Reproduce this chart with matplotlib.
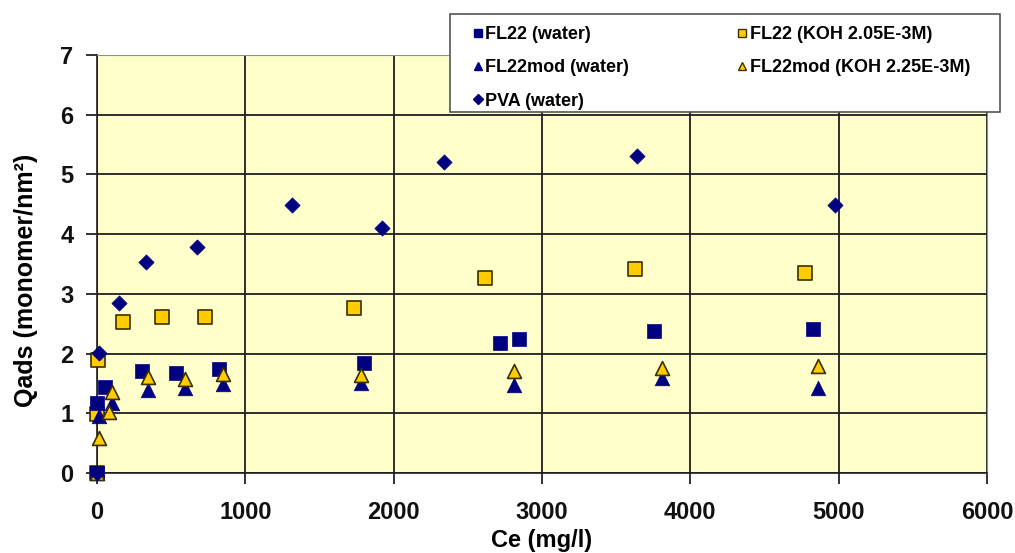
import numpy as np
import matplotlib.pyplot as plt
from matplotlib.lines import Line2D
from matplotlib.patches import Rectangle

plt.rcParams['font.family'] = ['Liberation Sans', 'DejaVu Sans']
plt.rcParams['font.weight'] = 'bold'

# FL22 in water (navy squares)
fl22_w_x = [0, 0, 55, 300, 535, 820, 1800, 2720, 2845, 3755, 4830]
fl22_w_y = [0, 1.17, 1.44, 1.70, 1.68, 1.74, 1.84, 2.18, 2.24, 2.37, 2.41]

# FL22 in KOH (yellow squares)
fl22_k_x = [0, 0, 5, 175, 440, 725, 1730, 2615, 3630, 4770]
fl22_k_y = [0, 0.98, 1.90, 2.53, 2.61, 2.61, 2.77, 3.27, 3.41, 3.35]

# FL22mod in water (navy triangles)
mod_w_x = [0, 10, 100, 345, 590, 850, 1780, 2810, 3810, 4860]
mod_w_y = [0, 0.96, 1.17, 1.39, 1.42, 1.49, 1.51, 1.47, 1.59, 1.42]

# FL22mod in KOH (yellow triangles)
mod_k_x = [0, 10, 80, 100, 345, 590, 850, 1780, 2810, 3810, 4860]
mod_k_y = [0, 0.59, 1.02, 1.36, 1.60, 1.57, 1.66, 1.64, 1.70, 1.76, 1.79]

# PVA in water (navy diamonds)
pva_x = [0, 15, 150, 330, 675, 1315, 1920, 2340, 3640, 4975]
pva_y = [0, 2.01, 2.85, 3.54, 3.79, 4.49, 4.10, 5.20, 5.31, 4.49]

navy = '#000080'
yellow = '#FFCC00'
edge = '#3a3000'

W, H = 1015, 553
fig = plt.figure(figsize=(W / 100, H / 100), dpi=100)
ax = fig.add_axes([0.0956, 0.1447, 0.8768, 0.7558])
ax.set_facecolor('#FFFFCC')

ax.scatter(fl22_k_x, fl22_k_y, marker='s', s=95, c=yellow, edgecolors=edge, linewidths=1.2, zorder=3, clip_on=False)
ax.scatter(fl22_w_x, fl22_w_y, marker='s', s=110, c=navy, edgecolors=navy, linewidths=0.5, zorder=4, clip_on=False)
ax.scatter(mod_w_x, mod_w_y, marker='^', s=110, c=navy, edgecolors=navy, linewidths=0.5, zorder=5, clip_on=False)
ax.scatter(mod_k_x, mod_k_y, marker='^', s=100, c=yellow, edgecolors=edge, linewidths=1.2, zorder=6, clip_on=False)
ax.scatter(pva_x, pva_y, marker='D', s=60, c=navy, edgecolors=navy, linewidths=0.5, zorder=7, clip_on=False)

ax.set_xlim(0, 6000)
ax.set_ylim(0, 7)
ax.set_xticks(np.arange(0, 6001, 1000))
ax.set_yticks(np.arange(0, 8, 1))
ax.grid(True, color='#202020', linewidth=1.3, zorder=1)
ax.set_axisbelow(True)
ax.tick_params(direction='out', length=8, width=1.2, labelsize=17, colors='#111111')
ax.tick_params(axis='x', pad=12)
ax.tick_params(axis='y', pad=9)
for lab in ax.get_xticklabels() + ax.get_yticklabels():
    lab.set_fontweight('bold')

for side in ['top', 'right']:
    ax.spines[side].set_color('#909090')
for side in ['left', 'bottom']:
    ax.spines[side].set_color('#202020')
    ax.spines[side].set_linewidth(1.2)

ax.set_xlabel('Ce (mg/l)', fontsize=17, fontweight='bold', labelpad=4)
ax.set_ylabel('Qads (monomer/nm²)', fontsize=18, fontweight='bold')
ax.yaxis.set_label_coords(-0.066, 0.46)

# legend box drawn separately so the padding can be uneven like the original
box = Rectangle((450 / W, 1 - 112 / H), 550 / W, 98 / H, transform=fig.transFigure,
                facecolor='white', edgecolor='#555555', linewidth=1.2, zorder=5)
fig.patches.append(box)

handles = [
    Line2D([], [], ls='none', marker='s', ms=6, mfc=navy, mec=navy, label='FL22 (water)'),
    Line2D([], [], ls='none', marker='^', ms=6, mfc=navy, mec=navy, label='FL22mod (water)'),
    Line2D([], [], ls='none', marker='D', ms=5, mfc=navy, mec=navy, label='PVA (water)'),
    Line2D([], [], ls='none', marker='s', ms=6, mfc=yellow, mec=edge, label='FL22 (KOH 2.05E-3M)'),
    Line2D([], [], ls='none', marker='^', ms=6, mfc=yellow, mec=edge, label='FL22mod (KOH 2.25E-3M)'),
]
leg = fig.legend(handles=handles, loc='upper left',
                 bbox_to_anchor=(473 / W, 1 - 120 / H, 497 / W, 94 / H),
                 mode='expand', ncol=2, frameon=False,
                 borderaxespad=0, borderpad=0, handlelength=0.5, handletextpad=0.15,
                 labelspacing=0.9, prop={'weight': 'bold', 'size': 13})
leg.set_zorder(10)

fig.savefig('out.png', dpi=100)
